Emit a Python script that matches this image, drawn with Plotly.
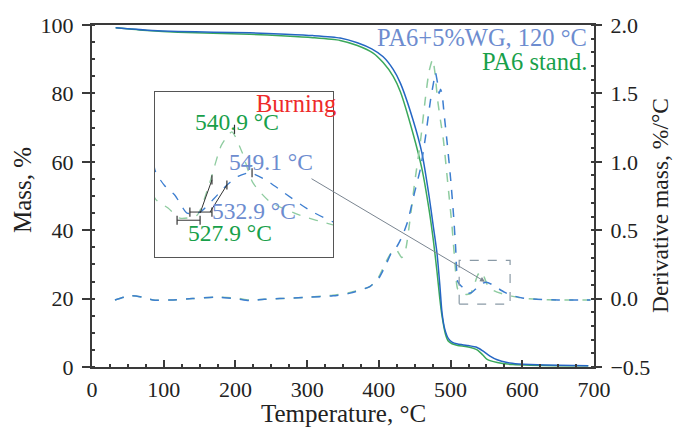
import plotly.graph_objects as go

# ---- Mass (left axis) ----
T_mass_wg = [33, 77, 120, 169, 220, 270, 308, 346, 370, 390, 406, 420, 430, 448, 460, 470, 476, 481, 485, 488,
             492, 497, 502, 510, 523, 537, 545, 555, 565, 579, 595, 611, 650, 692]
M_wg = [99.2, 98.5, 98.1, 97.9, 97.7, 97.3, 96.9, 96.2, 94.8, 93.0, 90.7, 87, 83, 72, 62.6, 50, 41, 33.4, 24, 16,
        11, 8.3, 7.3, 6.7, 6.3, 5.7, 4.7, 3.2, 2.1, 1.3, 0.9, 0.7, 0.5, 0.4]

T_mass_pa6 = [33, 77, 120, 169, 220, 270, 308, 346, 370, 392, 406, 420, 430, 448, 460, 470, 476, 481, 485, 488,
              493, 497, 502, 510, 523, 537, 545, 551, 565, 587, 611, 650, 692]
M_pa6 = [99.2, 98.4, 97.9, 97.6, 97.3, 96.8, 96.3, 95.5, 94.0, 91.8, 89, 85, 80.5, 68, 58, 46, 37, 28, 20, 15,
         9.5, 7.5, 6.8, 6.3, 5.9, 5.0, 3.5, 2.2, 1.3, 0.7, 0.5, 0.4, 0.35]

# ---- Derivative mass (right axis) ----
T_der_wg = [32, 45, 56, 70, 85, 110, 140, 170, 200, 220, 240, 262, 300, 336, 360, 388, 400, 410, 418, 425, 432,
            440, 450, 458, 465, 472, 477, 479, 482, 484, 486, 488, 491, 495, 500, 504, 507, 510, 514, 518.4,
            523.5, 529, 535, 540.3, 545, 550, 557, 564, 575, 585, 600, 620, 650, 695]
D_wg = [-0.01, 0.01, 0.02, 0.01, -0.01, -0.01, 0.0, 0.01, 0.0, -0.015, -0.005, 0.0, 0.01, 0.02, 0.04, 0.09, 0.15,
        0.25, 0.34, 0.38, 0.45, 0.56, 0.78, 0.95, 1.18, 1.45, 1.6, 1.65, 1.57, 1.5, 1.53, 1.5, 1.35, 1.15, 0.88,
        0.62, 0.38, 0.125, 0.095, 0.076, 0.041, 0.043, 0.07, 0.096, 0.113, 0.12, 0.105, 0.082, 0.047, 0.024,
        0.005, -0.005, -0.01, -0.01]

T_der_pa6 = [32, 45, 56, 70, 85, 110, 140, 170, 200, 220, 240, 262, 300, 336, 360, 388, 400, 410, 418, 424, 428,
             432, 437, 444, 450, 458, 465, 470, 475, 478, 482, 486, 490, 496, 502, 506, 510, 515.5, 520.5, 527.7,
             533, 538, 542.4, 546.7, 551.3, 558.5, 571, 585, 600, 620, 650, 695]
D_pa6 = [-0.01, 0.01, 0.02, 0.01, -0.01, -0.01, 0.0, 0.01, 0.005, -0.01, -0.005, 0.0, 0.01, 0.025, 0.045, 0.09,
         0.16, 0.27, 0.34, 0.36, 0.33, 0.3, 0.35, 0.6, 0.85, 1.15, 1.47, 1.66, 1.75, 1.66, 1.45, 1.3, 1.16, 0.85,
         0.53, 0.27, 0.07, 0.051, 0.031, 0.037, 0.1, 0.174, 0.2, 0.16, 0.1, 0.063, 0.037, 0.018, 0.003, -0.005,
         -0.01, -0.01]

# onset / peak construction marks in the inset (T, D)
onset_lines = [
    ([519.3, 529.0], [0.027, 0.027]),
    ([524.7, 534.0], [0.043, 0.043]),
    ([529.0, 534.0], [0.041, 0.106]),
    ([533.2, 540.3], [0.043, 0.096]),
]
tick_marks = [(519.3, 0.027), (529.0, 0.027), (524.7, 0.043), (534.0, 0.043), (534.0, 0.106),
              (540.3, 0.096), (543.5, 0.205), (550.9, 0.12)]

FONT = "Liberation Serif"
BLUE_SOLID = "#2566c4"
GREEN_SOLID = "#3aa85a"
BLUE_DASH = "#3d7ed0"
GREEN_DASH = "#8fcca0"
BLUE_TXT = "#6d8ccf"
GREEN_TXT = "#18a04a"
AX = "#3a3a3a"

fig = go.Figure()
fig.add_trace(go.Scatter(x=T_mass_pa6, y=M_pa6, mode="lines", line=dict(color=GREEN_SOLID, width=1.5, shape="spline", smoothing=0.6),
                         showlegend=False))
fig.add_trace(go.Scatter(x=T_mass_wg, y=M_wg, mode="lines", line=dict(color=BLUE_SOLID, width=1.5, shape="spline", smoothing=0.6),
                         showlegend=False))
fig.add_trace(go.Scatter(x=T_der_pa6, y=D_pa6, mode="lines", yaxis="y2",
                         line=dict(color=GREEN_DASH, width=1.5, dash="dash", shape="spline", smoothing=0.6), showlegend=False))
fig.add_trace(go.Scatter(x=T_der_wg, y=D_wg, mode="lines", yaxis="y2",
                         line=dict(color=BLUE_DASH, width=1.5, dash="dash", shape="spline", smoothing=0.6), showlegend=False))

# inset
fig.add_trace(go.Scatter(x=T_der_pa6, y=D_pa6, mode="lines", xaxis="x3", yaxis="y3",
                         line=dict(color=GREEN_DASH, width=1.3, dash="dash", shape="spline", smoothing=0.6), showlegend=False))
fig.add_trace(go.Scatter(x=T_der_wg, y=D_wg, mode="lines", xaxis="x3", yaxis="y3",
                         line=dict(color=BLUE_DASH, width=1.3, dash="dash", shape="spline", smoothing=0.6), showlegend=False))
for xs, ys in onset_lines:
    fig.add_trace(go.Scatter(x=xs, y=ys, mode="lines", xaxis="x3", yaxis="y3",
                             line=dict(color="#333333", width=1), showlegend=False))
for tx, ty in tick_marks:
    fig.add_trace(go.Scatter(x=[tx, tx], y=[ty - 0.009, ty + 0.009], mode="lines", xaxis="x3", yaxis="y3",
                             line=dict(color="#333333", width=1.2), showlegend=False))

tickfont = dict(family=FONT, size=22, color="#222222")
fig.update_layout(
    width=673, height=427,
    margin=dict(l=92, r=79, t=25, b=60),
    paper_bgcolor="white", plot_bgcolor="white",
    font=dict(family=FONT, size=22, color="#222222"),
    hovermode=False,
    xaxis=dict(range=[0, 700], dtick=100, ticks="inside", ticklen=7, tickwidth=1.5, tickcolor=AX,
               minor=dict(dtick=25, ticks="inside", ticklen=3, tickcolor=AX), ticklabelstandoff=2,
               showline=True, linecolor=AX, linewidth=2, mirror=True, showgrid=False, zeroline=False,
               tickfont=tickfont, automargin=False),
    yaxis=dict(range=[0, 100], dtick=20, ticks="outside", ticklen=8, tickwidth=1.5, tickcolor=AX,
               minor=dict(dtick=5, ticks="inside", ticklen=3, tickcolor=AX), ticklabelstandoff=4,
               showline=True, linecolor=AX, linewidth=2, showgrid=False, zeroline=False, tickfont=tickfont,
               automargin=False),
    yaxis2=dict(range=[-0.5, 2.0], dtick=0.5, tickformat=".1f", overlaying="y", side="right",
                ticks="outside", ticklen=6, tickwidth=1.5, tickcolor=AX,
                minor=dict(dtick=0.1, ticks="inside", ticklen=3, tickcolor=AX), ticklabelstandoff=4,
                showline=True, linecolor=AX, linewidth=2, showgrid=False, zeroline=False, tickfont=tickfont,
                automargin=False),
    xaxis3=dict(domain=[0.1255, 0.480], anchor="y3", range=[510, 585], showline=True, mirror=True,
                linecolor="#555555", linewidth=1.3, showticklabels=False, ticks="", showgrid=False, zeroline=False,
                automargin=False),
    yaxis3=dict(domain=[0.3216, 0.804], anchor="x3", range=[-0.045, 0.278], showline=True, mirror=True,
                linecolor="#555555", linewidth=1.3, showticklabels=False, ticks="", showgrid=False, zeroline=False,
                automargin=False),
)

# dashed zoom box in main plot and connector arrow
fig.add_shape(type="rect", xref="x", yref="y2", x0=512, x1=583, y0=-0.04, y1=0.28,
              line=dict(color="#8a9aa6", width=1.2, dash="dash"))
fig.add_annotation(xref="x", yref="y2", axref="x", ayref="y2", x=548, y=0.124, ax=304, ay=0.883,
                   showarrow=True, arrowhead=2, arrowsize=1, arrowwidth=1, arrowcolor="#7a8590", text="")

# text labels
def label(text, x, y, color, size=23.5):
    fig.add_annotation(xref="x3", yref="y3", x=x, y=y, text=text, showarrow=False,
                       xanchor="center", yanchor="middle",
                       font=dict(family=FONT, size=size, color=color))

label("Burning", 569.4, 0.2565, "#ee2a2a", 24.5)
label("540.9 °C", 544.5, 0.2193, GREEN_TXT)
label("549.1 °C", 558.9, 0.141, BLUE_TXT)
label("532.9 °C", 551.7, 0.0445, BLUE_TXT)
label("527.9 °C", 541.6, 0.002, GREEN_TXT)

def paper_text(text, x, y, color, size=25, angle=0, xanchor="center"):
    fig.add_annotation(xref="paper", yref="paper", x=x, y=y, text=text, showarrow=False, textangle=angle,
                       xanchor=xanchor, yanchor="middle", font=dict(family=FONT, size=size, color=color))

paper_text("PA6+5%WG, 120 °C", 0.99, (367 - 38) / 342, BLUE_TXT, 24.5, xanchor="right")
paper_text("PA6 stand.", 0.99, (367 - 62) / 342, GREEN_TXT, 24.5, xanchor="right")

# axis titles
paper_text("Temperature, °C", 0.5, (367 - 413) / 342, "#222222", 25)
paper_text("Mass, %", (23 - 92) / 502, (367 - 190) / 342, "#222222", 25, angle=-90)
paper_text("Derivative mass, %/°C", (660 - 92) / 502, (367 - 206) / 342, "#222222", 23.5, angle=-90)

fig.write_html("out.html", config={"displayModeBar": False},
               post_script="document.body.style.margin='0';document.body.style.overflow='hidden';")
